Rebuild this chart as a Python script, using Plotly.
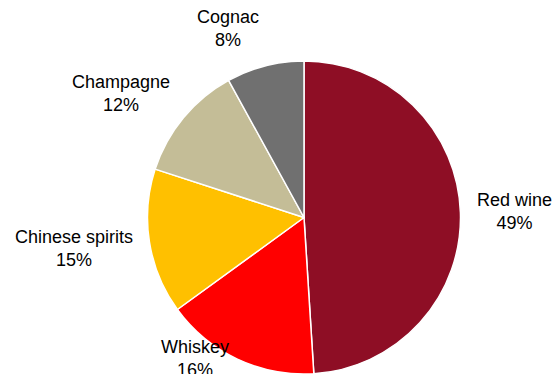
import math
import plotly.graph_objects as go

# Data
labels = ["Red wine", "Whiskey", "Chinese spirits", "Champagne", "Cognac"]
values = [49, 16, 15, 12, 8]
colors = ["#8E0E25", "#FF0000", "#FFC000", "#C4BD97", "#707070"]

W, H = 556, 374
CX, CY, R = 304.0, 217.5, 156.5
GAP = 15.0
LINE_H = 23.5
FONT = dict(family="Liberation Sans, Arial, sans-serif", size=18, color="#000000")
BOTTOM_LIMIT = 382.0

fig = go.Figure(go.Pie(
    labels=labels,
    values=values,
    sort=False,
    direction="clockwise",
    rotation=0,
    marker=dict(colors=colors, line=dict(color="#FFFFFF", width=1.5)),
    textinfo="none",
    hoverinfo="label+percent",
    domain=dict(x=[(CX - R) / W, (CX + R) / W], y=[0, (2 * R) / H]),
))

total = sum(values)
cum = 0.0
annotations = []
for lab, v in zip(labels, values):
    mid = (cum + v / 2.0) / total
    cum += v
    th = 2 * math.pi * mid
    s, c = math.sin(th), math.cos(th)
    px = CX + (R + GAP) * s
    py = CY - (R + GAP) * c
    h = 2 * LINE_H
    pyc = py - (h / 2.0) * c
    pyc = min(pyc, BOTTOM_LIMIT - h / 2.0)
    if s > 0.1:
        xa = "left"
    elif s < -0.1:
        xa = "right"
    else:
        xa = "center"
    pct = round(100.0 * v / total)
    annotations.append(dict(
        x=px / W, y=1 - pyc / H, xref="paper", yref="paper",
        xanchor=xa, yanchor="middle", showarrow=False, align="center",
        text=f"{lab}<br>{pct}%", font=FONT,
    ))

fig.update_layout(
    width=W, height=H,
    margin=dict(l=0, r=0, t=0, b=0),
    paper_bgcolor="white", plot_bgcolor="white",
    showlegend=False,
    annotations=annotations,
)

fig.write_html("out.html")
